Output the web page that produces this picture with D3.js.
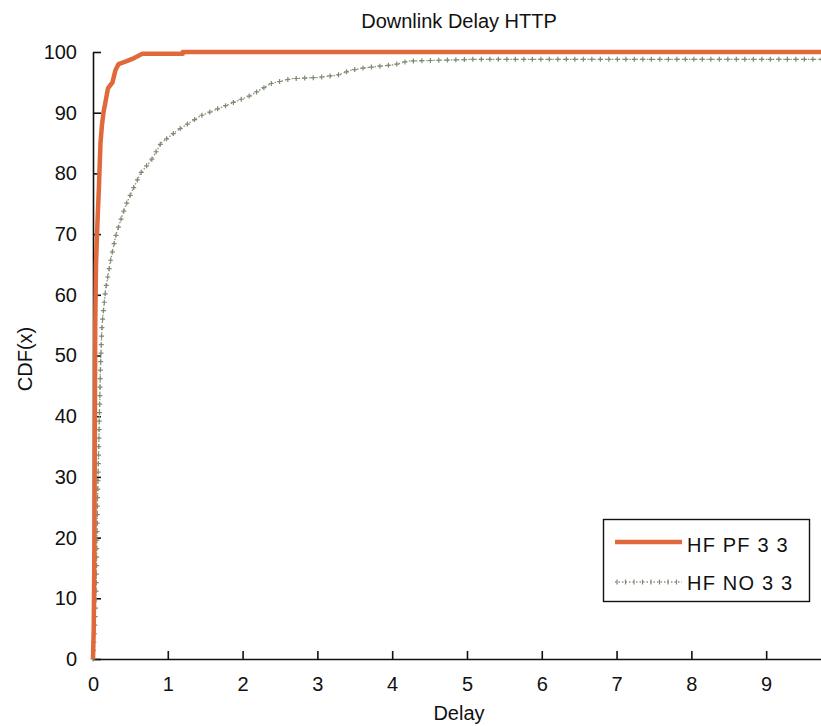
<!DOCTYPE html>
<html>
<head>
<meta charset="utf-8">
<script src="https://cdn.jsdelivr.net/npm/d3@7"></script>
<style>
  body { margin: 0; background: #fff; }
  svg { display: block; font-family: "Liberation Sans", Arial, sans-serif; }
</style>
</head>
<body>
<div id="chart"></div>
<script>
// data: [delay, CDF %]
const pfDelay = [0, 0.01, 0.02, 0.025, 0.03, 0.04, 0.06, 0.08, 0.1, 0.12, 0.14, 0.17, 0.2, 0.26, 0.3, 0.34, 0.45, 0.55, 0.66, 1.2, 1.2, 9.8];
const pfCdf   = [0, 5, 20, 40, 55, 65, 72, 78, 85, 88, 90, 92, 94, 95, 97, 98, 98.5, 99, 99.7, 99.7, 100, 100];

const noDelay = [0, 0.02, 0.04, 0.05, 0.06, 0.08, 0.1, 0.12, 0.17, 0.24, 0.31, 0.37, 0.44, 0.53, 0.64, 0.78, 0.91, 1.13, 1.44, 1.8, 2.1, 2.38, 2.65, 3.0, 3.27, 3.45, 3.63, 4.03, 4.21, 5.1, 9.8];
const noCdf   = [0, 5, 10, 18, 26, 37, 48, 55, 61, 66, 70, 72.3, 74.8, 77.3, 80.1, 82.2, 85, 87.1, 89.5, 91.3, 92.8, 94.8, 95.6, 95.8, 96.2, 97, 97.4, 97.9, 98.5, 98.8, 98.8];

const xTicks = [0, 1, 2, 3, 4, 5, 6, 7, 8, 9];
const yTicks = [0, 10, 20, 30, 40, 50, 60, 70, 80, 90, 100];
const seriesNames = ["HF PF 3 3", "HF NO 3 3"];

const w = 821, h = 726;
const mLeft = 93, mRight = 826, mTop = 52, mBottom = 659;

const svg = d3.select("#chart").append("svg")
  .attr("width", w).attr("height", h);

const x = d3.scaleLinear().domain([0, 9.8]).range([mLeft, mRight]);
const y = d3.scaleLinear().domain([0, 100]).range([mBottom, mTop]);

// axes (ticks inward like matlab)
const xAxis = svg.append("g")
  .attr("transform", "translate(0," + mBottom + ")")
  .call(d3.axisBottom(x).tickValues(xTicks).tickSizeInner(-8).tickSizeOuter(0).tickPadding(18));
const yAxis = svg.append("g")
  .attr("transform", "translate(" + mLeft + ",0)")
  .call(d3.axisLeft(y).tickValues(yTicks).tickSizeInner(-8).tickSizeOuter(0).tickPadding(18));

[xAxis, yAxis].forEach(function(g) {
  g.select(".domain").attr("stroke", "#111").attr("stroke-width", 1.6);
  g.selectAll(".tick line").attr("stroke", "#111").attr("stroke-width", 1.6);
  g.selectAll("text").attr("font-size", 20).attr("fill", "#111")
    .attr("font-family", "Liberation Sans, Arial, sans-serif");
});
yAxis.selectAll("text").attr("dx", 2);

const line = d3.line().x(d => x(d[0])).y(d => y(d[1]));

// gray series: dotted with + markers
const noData = noDelay.map((d, i) => [d, noCdf[i]]);
const grayPath = svg.append("path")
  .datum(noData)
  .attr("d", line)
  .attr("fill", "none")
  .attr("stroke", "#8a957f")
  .attr("stroke-width", 1.3)
  .attr("stroke-dasharray", "1.5,2");

const node = grayPath.node();
const len = node.getTotalLength();
const marks = d3.range(0, len, 8.5).map(l => node.getPointAtLength(l));
svg.append("g").selectAll("path")
  .data(marks)
  .enter().append("path")
  .attr("d", d => "M" + (d.x - 2.5) + "," + d.y + "h5M" + d.x + "," + (d.y - 2.5) + "v5")
  .attr("stroke", "#7d8a74")
  .attr("stroke-width", 1.2);

// orange series
const pfData = pfDelay.map((d, i) => [d, pfCdf[i]]);
svg.append("path")
  .datum(pfData)
  .attr("d", line)
  .attr("fill", "none")
  .attr("stroke", "#e0693b")
  .attr("stroke-width", 4.5)
  .attr("stroke-linejoin", "round");

// title and labels
svg.append("text")
  .attr("x", 459).attr("y", 28)
  .attr("text-anchor", "middle")
  .attr("font-size", 20).attr("fill", "#111")
  .text("Downlink Delay HTTP");

svg.append("text")
  .attr("x", 459).attr("y", 720)
  .attr("text-anchor", "middle")
  .attr("font-size", 20).attr("fill", "#111")
  .text("Delay");

svg.append("text")
  .attr("transform", "translate(32,359) rotate(-90)")
  .attr("text-anchor", "middle")
  .attr("font-size", 20).attr("fill", "#111")
  .text("CDF(x)");

// legend
const lg = svg.append("g");
lg.append("rect")
  .attr("x", 603.5).attr("y", 519.5)
  .attr("width", 206).attr("height", 82)
  .attr("fill", "#fff").attr("stroke", "#111").attr("stroke-width", 1.4);

lg.append("line")
  .attr("x1", 615).attr("x2", 682).attr("y1", 542).attr("y2", 542)
  .attr("stroke", "#e0693b").attr("stroke-width", 4.5);
lg.append("line")
  .attr("x1", 615).attr("x2", 682).attr("y1", 582).attr("y2", 582)
  .attr("stroke", "#8a957f").attr("stroke-width", 1.3).attr("stroke-dasharray", "1.5,2");
lg.append("g").selectAll("line")
  .data(d3.range(617, 682, 8.5))
  .enter().append("line")
  .attr("x1", d => d).attr("x2", d => d)
  .attr("y1", 579.5).attr("y2", 584.5)
  .attr("stroke", "#7d8a74").attr("stroke-width", 1.2);

lg.selectAll("text.lab")
  .data(seriesNames)
  .enter().append("text")
  .attr("class", "lab")
  .attr("x", 687)
  .attr("y", (d, i) => 552 + i * 38)
  .attr("font-size", 20)
  .attr("letter-spacing", 1.2)
  .attr("fill", "#111")
  .text(d => d);
</script>
</body>
</html>
